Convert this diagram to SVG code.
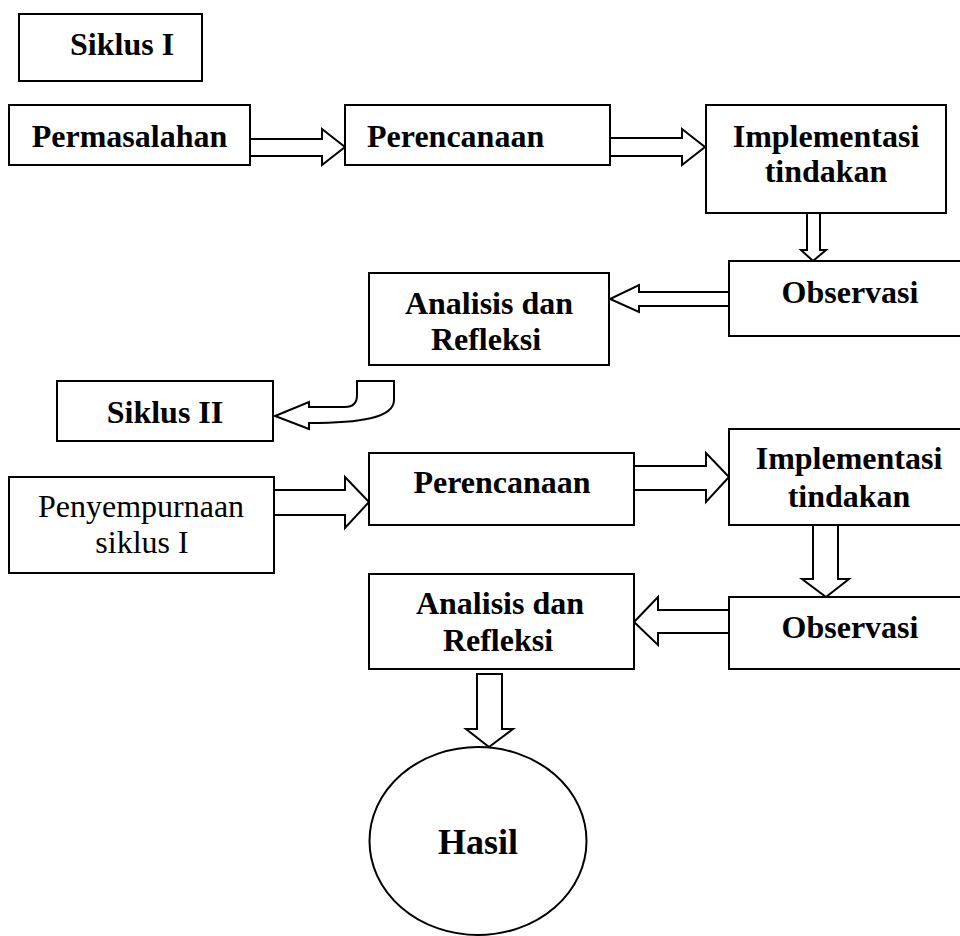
<svg xmlns="http://www.w3.org/2000/svg" width="960" height="936" viewBox="0 0 960 936">
<style>
.box{fill:#fff;stroke:#000;stroke-width:2}
.arr{fill:#fff;stroke:#000;stroke-width:2;stroke-linejoin:miter}
.t{font-family:"Liberation Serif","Times New Roman",serif;font-size:32px;font-weight:bold;fill:#000}
.r{font-family:"Liberation Serif","Times New Roman",serif;font-size:32px;fill:#000}
.m{text-anchor:middle}
</style>
<rect width="960" height="936" fill="#fff"/>
<g id="connectors">
<polygon class="arr" points="250,139 322,139 322,129 345,147 322,165 322,156 250,156"/>
<polygon class="arr" points="610,138 682,138 682,129 705,147 682,165 682,156 610,156"/>
<polygon class="arr" points="807,213 820,213 820,250 826,250 813,261 801,250 807,250"/>
<polygon class="arr" points="729,292 639,292 639,285 610,299 639,312 639,306 729,306"/>
<path class="arr" d="M357,381 L394,381 L394,400 C394,418 360,423 309,423 L309,429 L275,416 L309,402 L309,407 L345,407 Q357,407 357,395 Z"/>
<polygon class="arr" points="274,490 345,490 345,477 369,502 345,528 345,515 274,515"/>
<polygon class="arr" points="634,466 706,466 706,453 729,477 706,502 706,490 634,490"/>
<polygon class="arr" points="813,525 838,525 838,579 849,579 826,597 802,579 813,579"/>
<polygon class="arr" points="729,610 658,610 658,597 634,622 658,645 658,633 729,633"/>
<polygon class="arr" points="477,674 502,674 502,729 513,729 489,747 466,729 477,729"/>
</g>
<g id="siklus1"><rect class="box" x="19" y="14" width="183" height="67"/><text class="t" x="70" y="55">Siklus I</text></g>
<g id="permasalahan"><rect class="box" x="9" y="105" width="241" height="60"/><text class="t m" x="129.5" y="147">Permasalahan</text></g>
<g id="perencanaan1"><rect class="box" x="345" y="105" width="265" height="60"/><text class="t" x="367" y="147">Perencanaan</text></g>
<g id="implementasi1"><rect class="box" x="706" y="105" width="240" height="108"/><text class="t m" x="826" y="147">Implementasi</text><text class="t m" x="826" y="182">tindakan</text></g>
<g id="observasi1"><rect class="box" x="729" y="261" width="236" height="75"/><text class="t m" x="850" y="303">Observasi</text></g>
<g id="analisis1"><rect class="box" x="369" y="273" width="240" height="92"/><text class="t m" x="489" y="314">Analisis dan</text><text class="t m" x="486" y="350">Refleksi</text></g>
<g id="siklus2"><rect class="box" x="57" y="381" width="216" height="60"/><text class="t m" x="165" y="423">Siklus II</text></g>
<g id="penyempurnaan"><rect class="box" x="9" y="477" width="265" height="96"/><text class="r m" x="141" y="517">Penyempurnaan</text><text class="r m" x="142" y="553">siklus I</text></g>
<g id="perencanaan2"><rect class="box" x="369" y="453" width="265" height="72"/><text class="t m" x="502" y="493">Perencanaan</text></g>
<g id="implementasi2"><rect class="box" x="729" y="429" width="236" height="96"/><text class="t m" x="849" y="469">Implementasi</text><text class="t m" x="849" y="507">tindakan</text></g>
<g id="observasi2"><rect class="box" x="729" y="597" width="236" height="72"/><text class="t m" x="850" y="638">Observasi</text></g>
<g id="analisis2"><rect class="box" x="369" y="574" width="265" height="95"/><text class="t m" x="500" y="614">Analisis dan</text><text class="t m" x="498" y="651">Refleksi</text></g>
<g id="hasil"><ellipse class="box" cx="478" cy="841" rx="108.5" ry="94"/><text class="t m" x="478" y="854" style="font-size:36px">Hasil</text></g>
</svg>
